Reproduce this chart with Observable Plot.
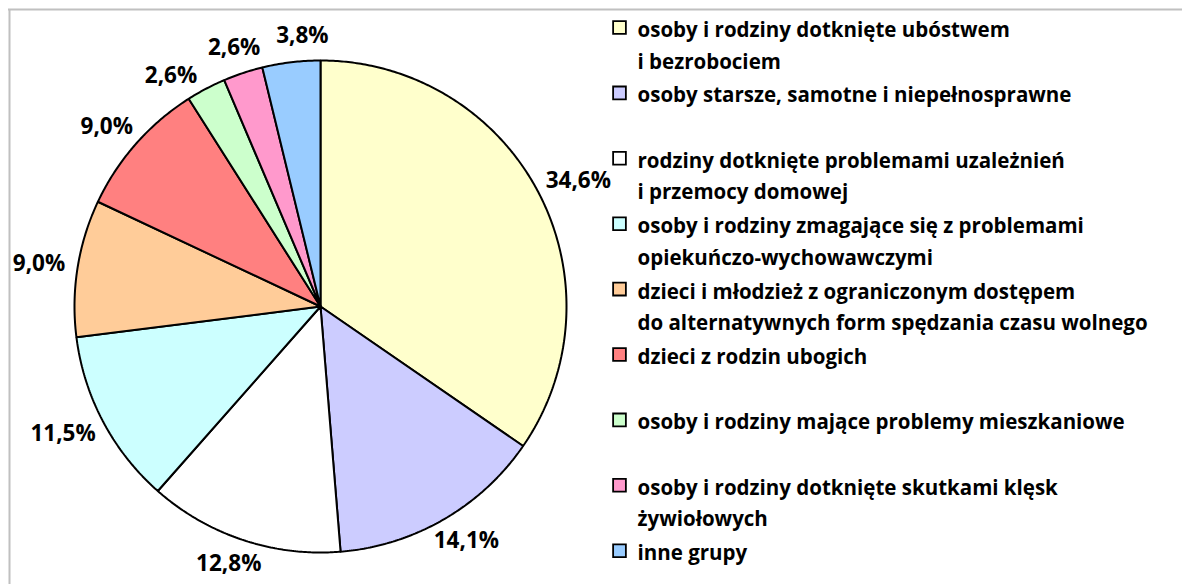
<!DOCTYPE html>
<html>
<head>
<meta charset="utf-8">
<script src="https://cdn.jsdelivr.net/npm/d3@7"></script>
<script src="https://cdn.jsdelivr.net/npm/@observablehq/plot@0.6"></script>
<style>
  html, body { margin: 0; padding: 0; background: #fff; }
  svg { display: block; }
</style>
</head>
<body>
<div id="chart"></div>
<script>
// Categories (legend lines split where the original wraps)
const categories = [
  ["osoby i rodziny dotknięte ubóstwem", "i bezrobociem"],
  ["osoby starsze, samotne i niepełnosprawne"],
  ["rodziny dotknięte problemami uzależnień", "i przemocy domowej"],
  ["osoby i rodziny zmagające się z problemami", "opiekuńczo-wychowawczymi"],
  ["dzieci i młodzież z ograniczonym dostępem", "do alternatywnych form spędzania czasu wolnego"],
  ["dzieci z rodzin ubogich"],
  ["osoby i rodziny mające problemy mieszkaniowe"],
  ["osoby i rodziny dotknięte skutkami klęsk", "żywiołowych"],
  ["inne grupy"]
];
const values = [34.6, 14.1, 12.8, 11.5, 9.0, 9.0, 2.6, 2.6, 3.8];
const colors = ["#FFFFCC", "#CCCCFF", "#FFFFFF", "#CCFFFF", "#FFCC99", "#FF8080", "#CCFFCC", "#FF99CC", "#99CCFF"];

const W = 1182, H = 584;
const cx = 320, cy = 306, R = 246;
const labGap = 14, labFont = 22.5, labCharW = 12.5, labH = 22;
const minLabelSep = 14 * Math.PI / 180; // minimum angular spacing between labels
const font = "'Open Sans', 'Noto Sans', sans-serif";
const keys = categories.map(c => c.join(" "));

// Slice geometry from the data
const total = d3.sum(values);
let acc = 0;
const slices = values.map((v, i) => {
  const a0 = acc / total * 2 * Math.PI;
  acc += v;
  const a1 = acc / total * 2 * Math.PI;
  return {key: keys[i], value: v, a0, a1, mid: (a0 + a1) / 2};
});
const pt = (a, rx, ry = rx) => [cx + rx * Math.sin(a), cy - ry * Math.cos(a)];

const pieRows = [];
for (const s of slices) {
  const n = Math.max(2, Math.ceil((s.a1 - s.a0) / (Math.PI / 360)));
  const [x0, y0] = pt(0, 0);
  pieRows.push({key: s.key, x: x0, y: y0});
  for (let k = 0; k <= n; k++) {
    const [x, y] = pt(s.a0 + (s.a1 - s.a0) * k / n, R);
    pieRows.push({key: s.key, x, y});
  }
  pieRows.push({key: s.key, x: x0, y: y0});
}

// Spread label angles so that neighbouring labels keep a minimum separation
const angles = slices.map(s => s.mid);
for (let it = 0; it < 60; it++) {
  for (let i = 0; i < angles.length - 1; i++) {
    const d = angles[i + 1] - angles[i];
    if (d < minLabelSep) {
      const push = (minLabelSep - d) / 2;
      angles[i] -= push;
      angles[i + 1] += push;
    }
  }
}

// Outside-end labels: the label box sits just outside the rim
const labelRows = slices.map((s, i) => {
  const text = s.value.toFixed(1).replace(".", ",") + "%";
  const w = text.length * labCharW;
  const [x, y] = pt(angles[i], R + labGap + w / 2, R + labGap + labH / 2);
  return {x, y, text};
});

// Legend layout
const legX = 619, legTextX = 637, legY0 = 27, legStep = 65.4, lineH = 31.5;
const legSquares = keys.map((k, i) => ({key: k, x: legX, y: legY0 + i * legStep}));
const legText = [];
categories.forEach((lines, i) => lines.forEach((t, j) =>
  legText.push({x: legTextX, y: legY0 + 3 + i * legStep + j * lineH, text: t})));

const chart = Plot.plot({
  width: W, height: H,
  margin: 0,
  x: {domain: [0, W], range: [0, W], axis: null},
  y: {domain: [0, H], range: [0, H], axis: null},
  color: {domain: keys, range: colors},
  style: {fontFamily: font, background: "#fff"},
  marks: [
    // outer frame
    Plot.ruleX([9], {y1: 9, y2: H + 10, stroke: "#c0c0c0", strokeWidth: 2}),
    Plot.ruleY([9], {x1: 8, x2: W + 10, stroke: "#c0c0c0", strokeWidth: 2}),
    Plot.line(pieRows, {x: "x", y: "y", z: "key", fill: "key", stroke: "#000", strokeWidth: 2, strokeLinejoin: "miter", curve: "linear"}),
    Plot.text(labelRows, {x: "x", y: "y", text: "text", fontSize: labFont, fontWeight: "bold", fill: "#000"}),
    Plot.dot(legSquares, {x: "x", y: "y", fill: "key", symbol: "square", r: 7.2, stroke: "#000", strokeWidth: 1.8}),
    Plot.text(legText, {x: "x", y: "y", text: "text", textAnchor: "start", fontSize: 20.5, fontWeight: "bold", fill: "#000"})
  ]
});
document.getElementById("chart").appendChild(chart);
</script>
</body>
</html>
